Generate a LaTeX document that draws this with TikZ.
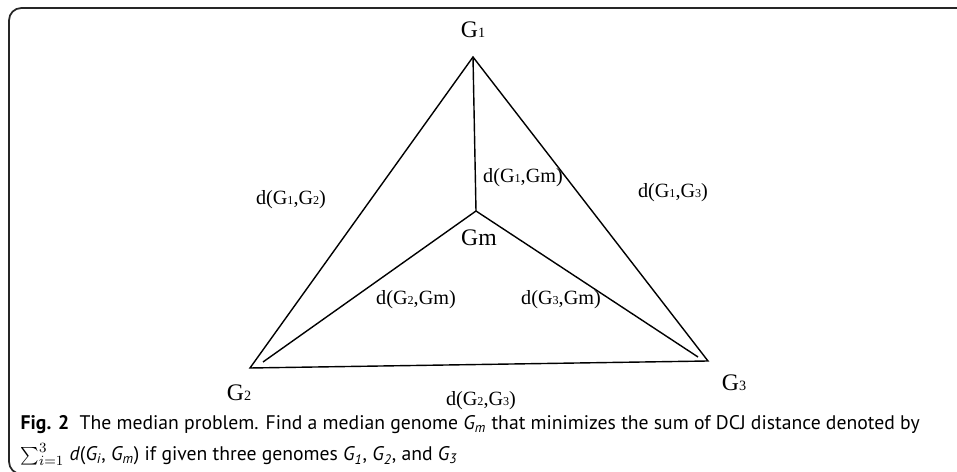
\documentclass[tikz,border=0pt]{standalone}
\usepackage{fontspec}
\setmainfont{Liberation Serif}
\newfontfamily\capfont{PT Sans}
\usepackage{graphicx}
\usepackage{tikz}
\newcommand{\lo}[1]{\scalebox{0.6}{#1}}

\begin{document}
\begin{tikzpicture}[x=0.02cm, y=-0.02cm, line width=0.8pt,
  vlabel/.style={font=\fontsize{13.5}{15}\selectfont, inner sep=0pt},
  elabel/.style={font=\fontsize{11.5}{13}\selectfont, inner sep=0pt},
  caption/.style={font=\capfont\fontsize{11.2}{13}\selectfont, anchor=west, inner sep=0pt}]
  \useasboundingbox (0,0) rectangle (957,472);
  % frame of the figure box
  \draw[black!85, line width=1pt, rounded corners=7] (962,8) -- (9,8) -- (9,474) -- (40,474);

  % genomes
  \coordinate (g1) at (473,57);
  \coordinate (g2) at (250,368);
  \coordinate (g3) at (708,361);
  \coordinate (gm) at (476,211);
  \coordinate (g2in) at (263,362);
  \coordinate (g3in) at (698,357);

  \draw (g1) -- (g2) -- (g3) -- cycle;
  \draw (g1) -- (gm);
  \draw (gm) -- (g2in);
  \draw (gm) -- (g3in);

  \node[vlabel] (lg1) at (473,30) {G\lo{1}};
  \node[vlabel] (lg2) at (239,393) {G\lo{2}};
  \node[vlabel] (lg3) at (734,383) {G\lo{3}};
  \node[vlabel] (lgm) at (479,238) {Gm};

  \node[elabel] (d12) at (291,200) {d(G\lo{1},G\lo{2})};
  \node[elabel] (d1m) at (523,178) {d(G\lo{1},Gm)};
  \node[elabel] (d13) at (673,193) {d(G\lo{1},G\lo{3})};
  \node[elabel] (d2m) at (416,300) {d(G\lo{2},Gm)};
  \node[elabel] (d3m) at (561,300) {d(G\lo{3},Gm)};
  \node[elabel] (d23) at (481,401) {d(G\lo{2},G\lo{3})};

  \node[caption] (cap1) at (20,425) {\textbf{Fig. 2}\ \ The median problem. Find a median genome \textit{G\textsubscript{m}} that minimizes the sum of DCJ distance denoted by};
  \node[caption] (cap2) at (20,456) {\smash{$\sum_{i=1}^{3}$} \textit{d}(\textit{G\textsubscript{i}}, \textit{G\textsubscript{m}}) if given three genomes \textit{G\textsubscript{1}}, \textit{G\textsubscript{2}}, and \textit{G\textsubscript{3}}};
\end{tikzpicture}
\end{document}
